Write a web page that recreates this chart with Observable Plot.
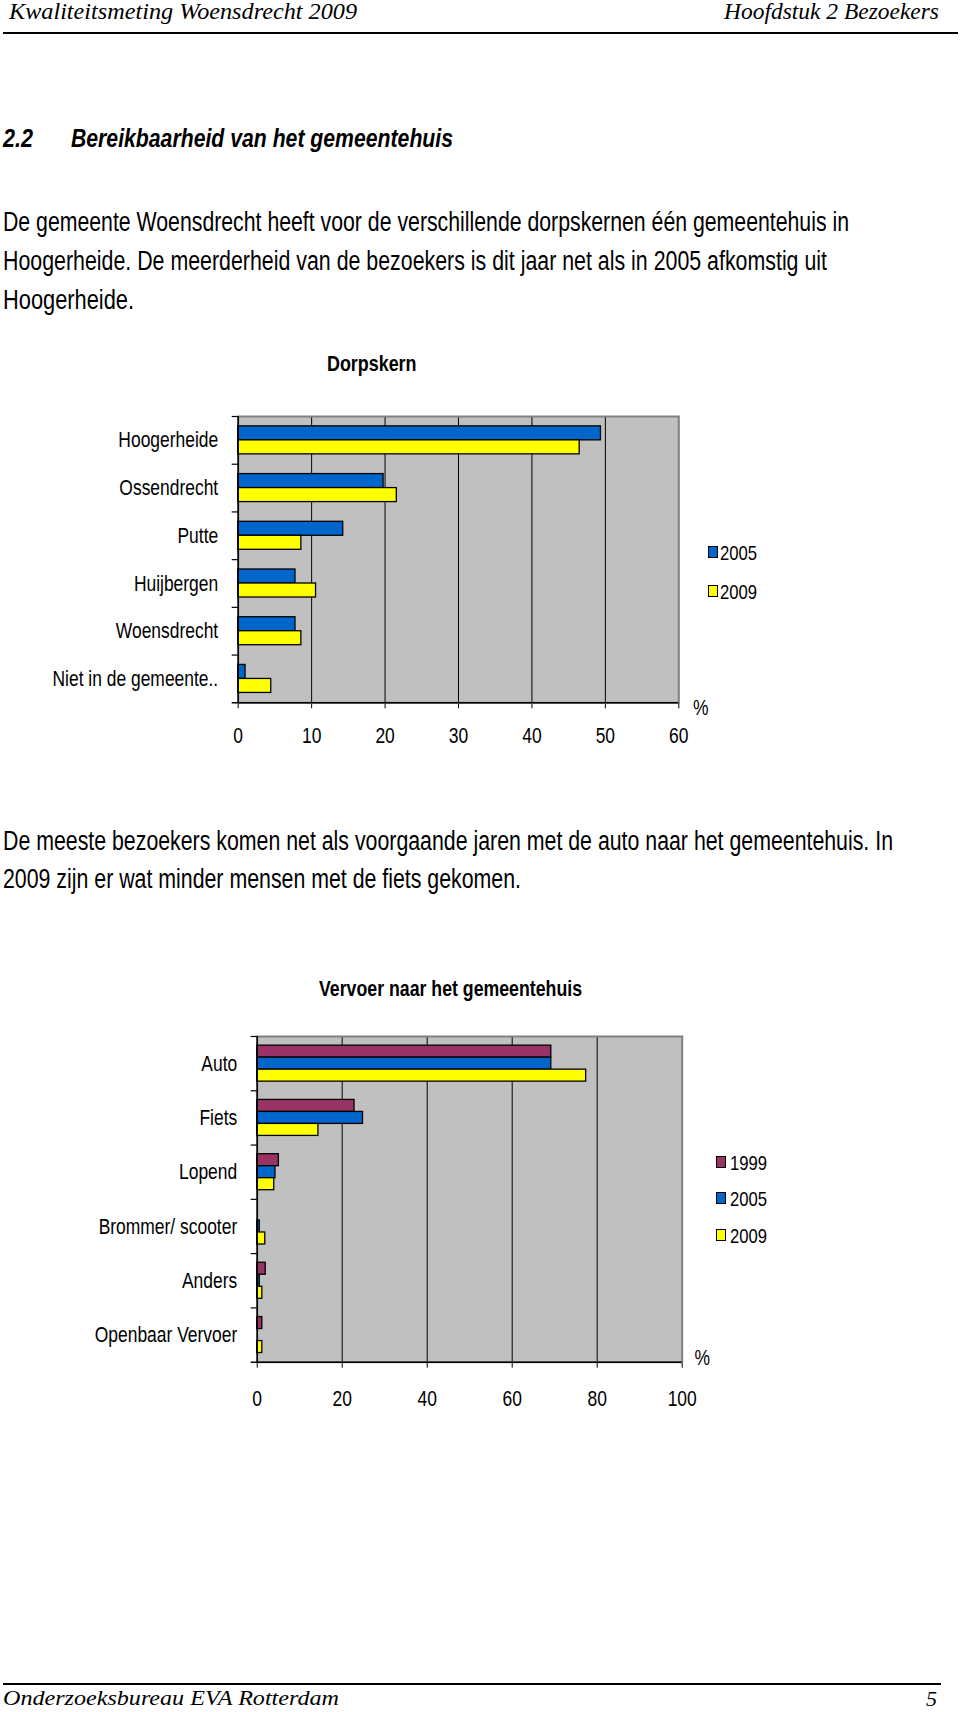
<!DOCTYPE html>
<html><head><meta charset="utf-8">
<script src="https://cdn.jsdelivr.net/npm/d3@7"></script>
<script src="https://cdn.jsdelivr.net/npm/@observablehq/plot@0.6"></script>
<style>
body{margin:0;background:#fff;}
#page{position:relative;width:960px;height:1712px;overflow:hidden;font-family:"Liberation Sans",Arial,sans-serif;color:#000;}
.t{position:absolute;white-space:nowrap;line-height:1;}
.rule{position:absolute;background:#000;}
.sw{position:absolute;border:1px solid #000;box-sizing:border-box;}
.chart{position:absolute;left:0;}
</style></head><body><div id="page"></div>
<script>
// ---------- data ----------
const dorpCategories = ["Hoogerheide","Ossendrecht","Putte","Huijbergen","Woensdrecht","Niet in de gemeente.."];
const dorpYears = ["2005","2009"];
const dorp2005 = [49.4, 19.8, 14.3, 7.8, 7.8, 1.0];
const dorp2009 = [46.5, 21.6, 8.6, 10.6, 8.6, 4.5];
const dorpTicks = [0,10,20,30,40,50,60];

const vervoerCategories = ["Auto","Fiets","Lopend","Brommer/ scooter","Anders","Openbaar Vervoer"];
const vervoerYears = ["1999","2005","2009"];
const vervoer1999 = [69.2, 22.9, 5.1, 0, 2.0, 1.2];
const vervoer2005 = [69.2, 24.9, 4.3, 0.6, 0.6, 0];
const vervoer2009 = [77.4, 14.4, 4.0, 1.9, 1.2, 1.2];
const vervoerTicks = [0,20,40,60,80,100];

const yearColors = {"1999":"#993366","2005":"#0066cc","2009":"#ffff00"};

// ---------- page text ----------
const page = document.getElementById("page");
const SX = 0.793; // horizontal squeeze of the scanned page
function line(text, x, yc, css, target) {
  const el = document.createElement("div");
  el.className = "t";
  el.textContent = text;
  Object.assign(el.style, {left: x + "px", top: yc + "px"}, css || {});
  page.appendChild(el);
  const w = el.getBoundingClientRect().width;
  const s = target ? target / w : SX;
  el.style.transformOrigin = "0 0";
  el.style.transform = `scale(${s},1) translateY(-50%)`;
  return el;
}
function hrule(x, y, w, h) {
  const el = document.createElement("div");
  el.className = "rule";
  Object.assign(el.style, {left: x + "px", top: y + "px", width: w + "px", height: h + "px"});
  page.appendChild(el);
}
const serif = {fontFamily: "'Liberation Serif','Times New Roman',serif", fontStyle: "italic", fontSize: "23px"};
const serifFoot = {fontFamily: "'Liberation Serif','Times New Roman',serif", fontStyle: "italic", fontSize: "22px"};
const body = {fontSize: "26.8px"};
const head = {fontSize: "26.7px", fontWeight: "bold", fontStyle: "italic"};

line("Kwaliteitsmeting Woensdrecht 2009", 8.7, 11, serif, 348);
line("Hoofdstuk 2 Bezoekers", 724, 11, serif, 215);
hrule(3, 32, 955, 2);

line("2.2", 3, 138, head, 30);
line("Bereikbaarheid van het gemeentehuis", 71, 138, head, 382);

line("De gemeente Woensdrecht heeft voor de verschillende dorpskernen één gemeentehuis in", 3, 221.7, body, 846);
line("Hoogerheide. De meerderheid van de bezoekers is dit jaar net als in 2005 afkomstig uit", 3, 261, body, 824);
line("Hoogerheide.", 3, 300.4, body, 131);

line("De meeste bezoekers komen net als voorgaande jaren met de auto naar het gemeentehuis. In", 3, 841, body, 890);
line("2009 zijn er wat minder mensen met de fiets gekomen.", 3, 879.2, body, 518);

hrule(3, 1683, 938, 2);
line("Onderzoeksbureau EVA Rotterdam", 3.3, 1698.4, serifFoot, 336);
line("5", 926, 1699, serifFoot, 11);

// ---------- charts ----------
function groupedBars({cats, years, series, ticks, top, W, ML, MR, MT, plotH, MB, bh, tickPad, yPad, pctDx, pctDy}) {
  const rows = years.flatMap((yr, k) => cats.map((c, i) => ({cat: c, year: yr, value: series[k][i]})));
  const n = years.length;
  const bw = plotH / cats.length;
  const pad = (bw - n * bh) / 2;
  const plotW = W - ML - MR;
  const max = ticks[ticks.length - 1];
  const bars = years.map((yr, k) => Plot.barX(rows.filter(d => d.year === yr && d.value > 0), {
    x: "value", y: "cat", fill: "year", stroke: "#000", strokeWidth: 1.3,
    insetTop: pad + k * bh, insetBottom: pad + (n - 1 - k) * bh
  }));
  const svg = Plot.plot({
    width: W, height: MT + plotH + MB,
    marginTop: MT, marginBottom: MB, marginLeft: ML, marginRight: MR,
    style: {fontFamily: "'Liberation Sans',Arial,sans-serif", fontSize: "22px", background: "transparent", overflow: "visible", color: "#000"},
    x: {domain: [0, max], ticks: ticks, tickSize: 6, tickPadding: tickPad, label: null, tickFormat: d => String(d)},
    y: {domain: cats, padding: 0, round: false, tickSize: 0, tickPadding: yPad, label: null},
    color: {domain: years, range: years.map(y => yearColors[y])},
    marks: [
      Plot.frame({fill: "#c0c0c0", stroke: "none"}),
      Plot.ruleX(ticks.slice(1, -1), {stroke: "#000", strokeWidth: 1}),
      Plot.frame({stroke: "#808080", strokeWidth: 2}),
      ...bars,
      Plot.ruleX([0], {stroke: "#000", strokeWidth: 1.5}),
      Plot.ruleY(cats, {y: d => d, dy: -bw / 2, insetLeft: -6, insetRight: plotW, stroke: "#000", strokeWidth: 1.2}),
      Plot.ruleY([cats[cats.length - 1]], {y: d => d, dy: bw / 2, insetLeft: -6, stroke: "#000", strokeWidth: 1.5}),
      Plot.text(["%"], {text: d => d, frameAnchor: "bottom-right", dx: pctDx, dy: pctDy, textAnchor: "middle", lineAnchor: "middle", fontSize: 22})
    ]
  });
  const wrap = document.createElement("div");
  wrap.className = "chart";
  wrap.style.top = top + "px";
  wrap.appendChild(svg);
  page.appendChild(wrap);
  svg.querySelectorAll("text").forEach(t => {
    const L = t.getComputedTextLength();
    if (L > 0) { t.setAttribute("textLength", L * SX); t.setAttribute("lengthAdjust", "spacingAndGlyphs"); }
  });
  return svg;
}

function legend(svg, x, textX, ys) {
  const color = svg.scale("color");
  color.domain.forEach((yr, i) => {
    const sq = document.createElement("div");
    sq.className = "sw";
    Object.assign(sq.style, {left: x + "px", top: (ys[i] - 6) + "px", width: "10px", height: "12px", background: color.apply(yr)});
    page.appendChild(sq);
    line(yr, textX, ys[i], {fontSize: "21px"});
  });
}

// Chart 1
line("Dorpskern", 326.6, 364, {fontSize: "22.6px", fontWeight: "bold"}, 89.5);
const c1 = groupedBars({
  cats: dorpCategories, years: dorpYears, series: [dorp2005, dorp2009], ticks: dorpTicks,
  top: 380, W: 760, ML: 237.7, MR: 81.7, MT: 36, plotH: 286.3, MB: 60, bh: 14, tickPad: 19, yPad: 20,
  pctDx: 22, pctDy: 5
});
legend(c1, 708, 720, [552, 591]);

// Chart 2
line("Vervoer naar het gemeentehuis", 319, 988.5, {fontSize: "22.6px", fontWeight: "bold"}, 263);
const c2 = groupedBars({
  cats: vervoerCategories, years: vervoerYears, series: [vervoer1999, vervoer2005, vervoer2009], ticks: vervoerTicks,
  top: 1000, W: 760, ML: 256.7, MR: 78.3, MT: 36, plotH: 325.7, MB: 60, bh: 12, tickPad: 22, yPad: 20,
  pctDx: 20, pctDy: -4
});
legend(c2, 716, 730, [1161.7, 1198.3, 1235]);
</script></body></html>
